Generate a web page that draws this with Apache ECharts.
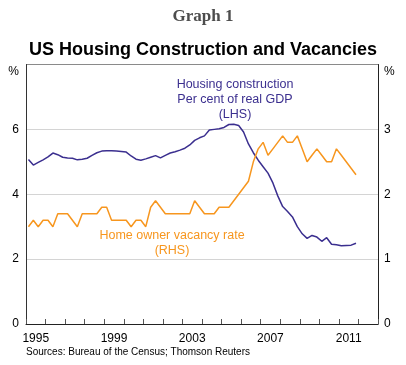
<!DOCTYPE html>
<html><head><meta charset="utf-8">
<script src="https://cdn.jsdelivr.net/npm/echarts@6/dist/echarts.min.js"></script>
<style>html,body{margin:0;padding:0;background:#fff}#c{width:406px;height:365px}</style>
</head><body><div id="c"></div>
<script>
// Quarterly data, 1995Q1 .. 2011Q4
var startYear = 1995;
var yearLabels = ['1995','1996','1997','1998','1999','2000','2001','2002','2003','2004','2005','2006','2007','2008','2009','2010','2011','2012'];
// Housing construction, per cent of real GDP (LHS)
var housing = [
 5.07,4.90,4.98,5.06, 5.15,5.27,5.22,5.14, 5.12,5.11,5.06,5.08, 5.11,5.20,5.28,5.33,
 5.34,5.34,5.33,5.32, 5.30,5.18,5.08,5.05, 5.09,5.14,5.19,5.12, 5.20,5.27,5.31,5.36,
 5.42,5.52,5.66,5.74, 5.80,5.98,6.00,6.02, 6.06,6.15,6.16,6.12, 5.92,5.55,5.28,5.05,
 4.85,4.65,4.35,3.95, 3.62,3.47,3.30,3.00, 2.78,2.64,2.73,2.68, 2.55,2.66,2.46,2.44,
 2.41,2.42,2.43,2.49
];
// Home owner vacancy rate (RHS)
var vacancy = [
 1.5,1.6,1.5,1.6, 1.6,1.5,1.7,1.7, 1.7,1.6,1.5,1.7, 1.7,1.7,1.7,1.8,
 1.8,1.6,1.6,1.6, 1.6,1.5,1.6,1.6, 1.5,1.8,1.9,1.8, 1.7,1.7,1.7,1.7,
 1.7,1.7,1.9,1.8, 1.7,1.7,1.7,1.8, 1.8,1.8,1.9,2.0, 2.1,2.2,2.5,2.7,
 2.8,2.6,2.7,2.8, 2.9,2.8,2.8,2.9, 2.7,2.5,2.6,2.7, 2.6,2.5,2.5,2.7,
 2.6,2.5,2.4,2.3
];
function toPairs(arr){ return arr.map(function(v,i){ return [startYear + (i+0.5)/4, v]; }); }

var PURPLE = '#3b2f8f', ORANGE = '#f7961e';
var chart = echarts.init(document.getElementById('c'));
chart.setOption({
  animation:false,
  textStyle:{fontFamily:'Liberation Sans, Arial, sans-serif'},
  title:[
    {text:'Graph 1', left:'center', top:3, textStyle:{fontFamily:'Liberation Serif, Times New Roman, serif', fontWeight:'bold', fontSize:17, color:'#4d4d4d'}},
    {text:'US Housing Construction and Vacancies', left:'center', top:36, textStyle:{fontFamily:'Liberation Sans, Arial, sans-serif', fontWeight:'bold', fontSize:18, color:'#000'}}
  ],
  grid:{left:26, right:28, top:64.5, bottom:41, show:false},
  xAxis:[
    {type:'value', min:1995, max:2013, interval:1,
     axisLine:{show:true, lineStyle:{color:'#222', width:1}},
     axisTick:{show:true, inside:true, length:5, lineStyle:{color:'#555'}},
     axisLabel:{show:false}, splitLine:{show:false}},
    {type:'category', data:yearLabels, position:'bottom', boundaryGap:true,
     axisLine:{show:false}, axisTick:{show:false},
     axisLabel:{interval:3, fontSize:12, color:'#000', margin:9}}
  ],
  yAxis:[
    {type:'value', min:0, max:8, interval:2, position:'left',
     axisLine:{show:true, lineStyle:{color:'#333'}}, axisTick:{show:false},
     axisLabel:{fontSize:12, color:'#000', margin:7,
       formatter:function(v){ return v===8 ? '{p|%}' : String(v); },
       rich:{p:{fontSize:12, color:'#000', padding:[14,0,0,0]}}},
     splitLine:{show:true, lineStyle:{color:['#333','#d4d4d4','#d4d4d4','#d4d4d4','#8a8a8a'], width:1}}},
    {type:'value', min:0, max:4, interval:1, position:'right',
     axisLine:{show:true, lineStyle:{color:'#222'}}, axisTick:{show:false},
     axisLabel:{fontSize:12, color:'#000', margin:6,
       formatter:function(v){ return v===4 ? '{p|%}' : String(v); },
       rich:{p:{fontSize:12, color:'#000', padding:[14,0,0,0]}}},
     splitLine:{show:false}}
  ],
  series:[
    {type:'line', name:'Housing construction', xAxisIndex:0, yAxisIndex:0, data:toPairs(housing),
     showSymbol:false, lineStyle:{color:PURPLE, width:1.5}, itemStyle:{color:PURPLE}},
    {type:'line', name:'Home owner vacancy rate', xAxisIndex:0, yAxisIndex:1, data:toPairs(vacancy),
     showSymbol:false, lineStyle:{color:ORANGE, width:1.5}, itemStyle:{color:ORANGE}}
  ],
  graphic:[
    {type:'text', x:235, y:85, style:{text:'Housing construction', fill:PURPLE, font:'12.5px Liberation Sans, Arial, sans-serif', align:'center', verticalAlign:'middle'}},
    {type:'text', x:235, y:100, style:{text:'Per cent of real GDP', fill:PURPLE, font:'12.5px Liberation Sans, Arial, sans-serif', align:'center', verticalAlign:'middle'}},
    {type:'text', x:235, y:115, style:{text:'(LHS)', fill:PURPLE, font:'12.5px Liberation Sans, Arial, sans-serif', align:'center', verticalAlign:'middle'}},
    {type:'text', x:172, y:236, style:{text:'Home owner vacancy rate', fill:ORANGE, font:'12.5px Liberation Sans, Arial, sans-serif', align:'center', verticalAlign:'middle'}},
    {type:'text', x:172, y:251, style:{text:'(RHS)', fill:ORANGE, font:'12.5px Liberation Sans, Arial, sans-serif', align:'center', verticalAlign:'middle'}},
    {type:'text', x:26, y:352, style:{text:'Sources: Bureau of the Census; Thomson Reuters', fill:'#000', font:'10px Liberation Sans, Arial, sans-serif', align:'left', verticalAlign:'middle'}}
  ]
});
</script></body></html>
